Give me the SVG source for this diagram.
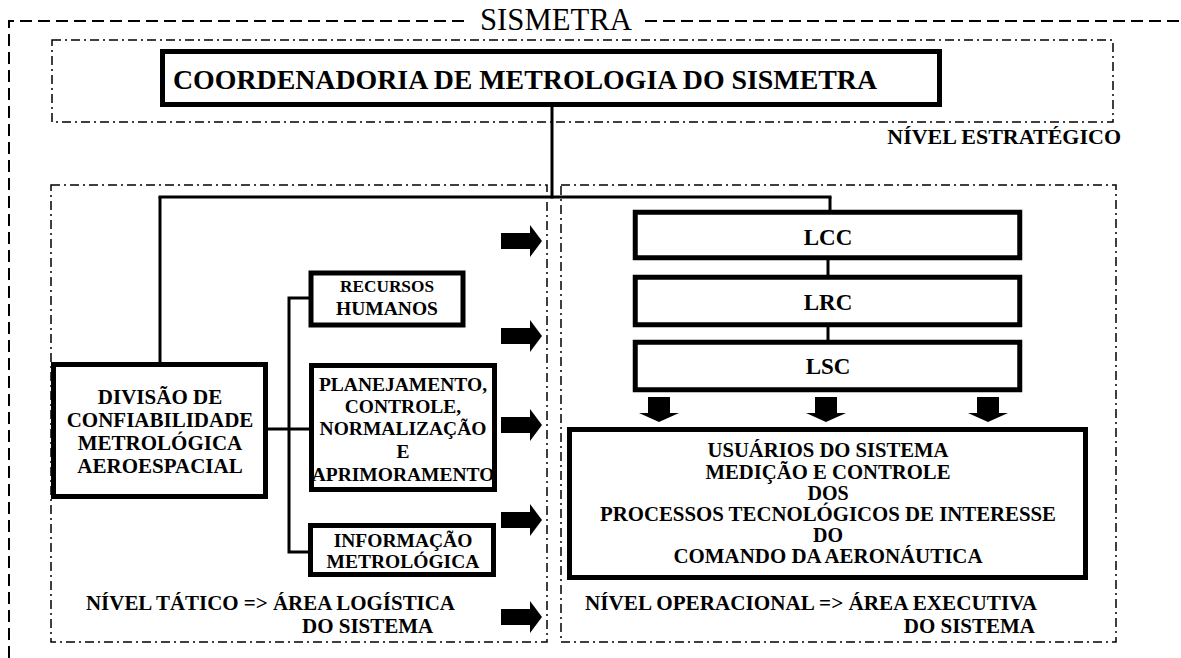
<svg xmlns="http://www.w3.org/2000/svg" xmlns:xlink="http://www.w3.org/1999/xlink" width="1181" height="658" viewBox="0 0 1181 658">
<style>
.bg{fill:#fff}
.outer{fill:none;stroke:#000;stroke-width:2;stroke-dasharray:12 6}
.zone{fill:none;stroke:#000;stroke-width:1.5;stroke-dasharray:9 4 2 4}
.box{fill:#fff;stroke:#000;stroke-width:5}
.lab{font-family:"Liberation Serif","Times New Roman",serif;font-weight:bold;fill:#000}
.c{text-anchor:middle}
.ln{fill:none;stroke:#000;stroke-width:3}
.arr{fill:#000}
</style>
<defs>
<path id="arrR" d="M501,-8 H530 V-16 L542,0 L530,16 V8 H501 Z"/>
<path id="arrD" d="M-11,397 H11 V413 H20 L0,422 L-20,413 H-11 Z"/>
</defs>
<rect class="bg" x="0" y="0" width="1181" height="658"/>

<g id="frame-sismetra">
<path class="outer" d="M9,658 V21 H467"/>
<path class="outer" d="M645,21 H1181"/>
<text x="480" y="30" font-family="Liberation Serif, Times New Roman, serif" font-size="31" textLength="152" lengthAdjust="spacingAndGlyphs">SISMETRA</text>
</g>

<g id="zone-estrategico">
<rect class="zone" x="52" y="40" width="1061" height="82"/>
<text class="lab" x="1121" y="144" font-size="22" text-anchor="end">NÍVEL ESTRATÉGICO</text>
</g>

<g id="zone-tatico">
<rect class="zone" x="51" y="185" width="496" height="457"/>
<text class="lab" x="86" y="610" font-size="21" textLength="369" lengthAdjust="spacingAndGlyphs">NÍVEL TÁTICO =&gt; ÁREA LOGÍSTICA</text>
<text class="lab" x="302" y="633" font-size="21">DO SISTEMA</text>
</g>

<g id="zone-operacional">
<rect class="zone" x="561" y="185" width="555" height="457"/>
<text class="lab" x="585" y="610" font-size="21" textLength="452" lengthAdjust="spacingAndGlyphs">NÍVEL OPERACIONAL =&gt; ÁREA EXECUTIVA</text>
<text class="lab" x="1035" y="633" font-size="21" text-anchor="end">DO SISTEMA</text>
</g>

<g id="connectors">
<line class="ln" x1="552" y1="107" x2="552" y2="198.5" stroke-width="3.5"/>
<line class="ln" x1="158.5" y1="197" x2="831.5" y2="197"/>
<line class="ln" x1="160" y1="197" x2="160" y2="364"/>
<line class="ln" x1="830" y1="197" x2="830" y2="212"/>
<line class="ln" x1="828" y1="260" x2="828" y2="275" stroke-width="2"/>
<line class="ln" x1="828" y1="327" x2="828" y2="340" stroke-width="2"/>
<line class="ln" x1="266" y1="429" x2="312" y2="429" stroke-width="5"/>
<path class="ln" d="M310,298 H289 V552 H309" stroke-width="3.5"/>
<use xlink:href="#arrR" href="#arrR" class="arr" transform="translate(0,241)"/>
<use xlink:href="#arrR" href="#arrR" class="arr" transform="translate(0,336)"/>
<use xlink:href="#arrR" href="#arrR" class="arr" transform="translate(0,425)"/>
<use xlink:href="#arrR" href="#arrR" class="arr" transform="translate(0,520)"/>
<use xlink:href="#arrR" href="#arrR" class="arr" transform="translate(0,617)"/>
<use xlink:href="#arrD" href="#arrD" class="arr" transform="translate(659,0)"/>
<use xlink:href="#arrD" href="#arrD" class="arr" transform="translate(826,0)"/>
<use xlink:href="#arrD" href="#arrD" class="arr" transform="translate(988,0)"/>
</g>

<g id="node-coordenadoria">
<rect class="box" x="162.5" y="51.5" width="777" height="53"/>
<text class="lab" x="173" y="89" font-size="27" textLength="704" lengthAdjust="spacingAndGlyphs">COORDENADORIA DE METROLOGIA DO SISMETRA</text>
</g>

<g id="node-divisao">
<rect class="box" x="53.5" y="364.5" width="212" height="132"/>
<text class="lab c" x="160" y="404" font-size="21">DIVISÃO DE</text>
<text class="lab c" x="160" y="427" font-size="21">CONFIABILIDADE</text>
<text class="lab c" x="160" y="450" font-size="21">METROLÓGICA</text>
<text class="lab c" x="160" y="473" font-size="21">AEROESPACIAL</text>
</g>

<g id="node-recursos">
<rect class="box" x="311" y="273" width="152" height="52" stroke-width="4.5"/>
<text class="lab c" x="387" y="292" font-size="16.5" textLength="94" lengthAdjust="spacingAndGlyphs">RECURSOS</text>
<text class="lab c" x="387" y="315" font-size="19.5">HUMANOS</text>
</g>

<g id="node-planejamento">
<rect class="box" x="311.5" y="365.5" width="183" height="124"/>
<text class="lab c" x="403" y="391" font-size="19.5">PLANEJAMENTO,</text>
<text class="lab c" x="403" y="413" font-size="19.5">CONTROLE,</text>
<text class="lab c" x="403" y="435" font-size="19.5">NORMALIZAÇÃO</text>
<text class="lab c" x="403" y="458" font-size="19.5">E</text>
<text class="lab c" x="403" y="481" font-size="19.5">APRIMORAMENTO</text>
</g>

<g id="node-informacao">
<rect class="box" x="310.5" y="525.5" width="183" height="49"/>
<text class="lab c" x="403" y="547" font-size="19.5">INFORMAÇÃO</text>
<text class="lab c" x="403" y="568" font-size="19.5">METROLÓGICA</text>
</g>

<g id="node-lcc">
<rect class="box" x="635.25" y="212.25" width="384.5" height="45.5" stroke-width="4.5"/>
<text class="lab c" x="828" y="245" font-size="23">LCC</text>
</g>

<g id="node-lrc">
<rect class="box" x="635.25" y="277.25" width="384.5" height="47.5" stroke-width="4.5"/>
<text class="lab c" x="828" y="310" font-size="23">LRC</text>
</g>

<g id="node-lsc">
<rect class="box" x="635.25" y="342.25" width="384.5" height="47.5" stroke-width="4.5"/>
<text class="lab c" x="828" y="374" font-size="23">LSC</text>
</g>

<g id="node-usuarios">
<rect class="box" x="569.5" y="429.5" width="516" height="148"/>
<text class="lab c" x="828" y="457" font-size="20" textLength="241" lengthAdjust="spacingAndGlyphs">USUÁRIOS DO SISTEMA</text>
<text class="lab c" x="828" y="479" font-size="20" textLength="245" lengthAdjust="spacingAndGlyphs">MEDIÇÃO E CONTROLE</text>
<text class="lab c" x="828" y="500" font-size="20">DOS</text>
<text class="lab c" x="828" y="521" font-size="20" textLength="456" lengthAdjust="spacingAndGlyphs">PROCESSOS TECNOLÓGICOS DE INTERESSE</text>
<text class="lab c" x="828" y="542" font-size="20">DO</text>
<text class="lab c" x="828" y="563" font-size="20" textLength="309" lengthAdjust="spacingAndGlyphs">COMANDO DA AERONÁUTICA</text>
</g>
</svg>
